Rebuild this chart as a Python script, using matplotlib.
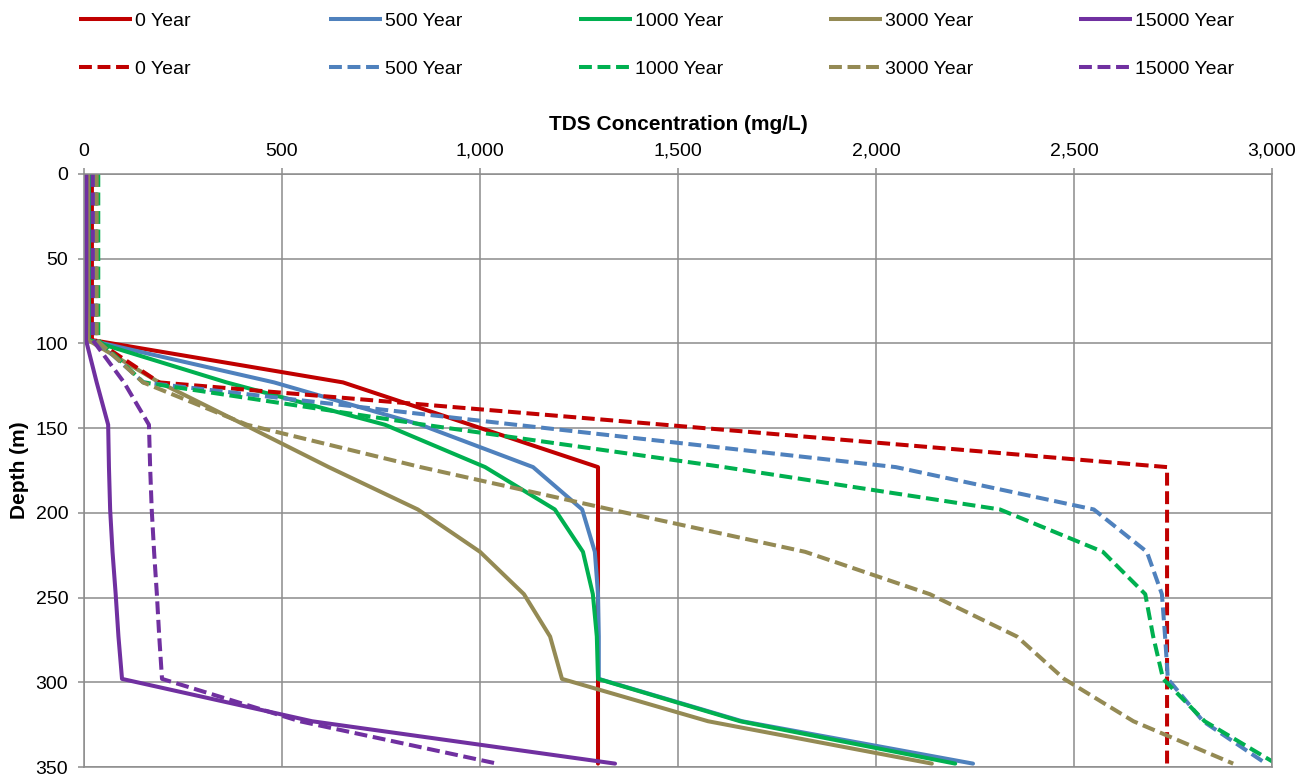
import matplotlib.pyplot as plt
from matplotlib.lines import Line2D
from matplotlib.ticker import FuncFormatter, MultipleLocator

plt.rcParams['font.family'] = ['Liberation Sans', 'DejaVu Sans']

# Profundidad de los nodos (m)
depth = [0, 25, 50, 75, 98, 123, 148, 173, 198, 223, 248, 273, 298, 323, 348]

years = ['0 Year', '500 Year', '1000 Year', '3000 Year', '15000 Year']
colors = ['#C00000', '#4F81BD', '#00B050', '#948A54', '#7030A0']

# Series continuas (TDS, mg/L)
solid_0 = [20, 20, 20, 20, 20, 654, 976, 1298, 1298, 1298, 1298, 1298, 1298, 1298, 1298]
solid_500 = [12, 12, 12, 12, 12, 480, 850, 1134, 1258, 1290, 1298, 1300, 1300, 1662, 2245]
solid_1000 = [12, 12, 12, 12, 12, 360, 760, 1013, 1189, 1260, 1285, 1295, 1298, 1657, 2200]
solid_3000 = [10, 10, 10, 10, 10, 190, 405, 618, 843, 1000, 1111, 1177, 1207, 1576, 2141]
solid_15000 = [6, 6, 6, 6, 5, 32, 61, 63, 66, 72, 80, 87, 96, 576, 1341]

# Series discontinuas
dash_0 = [28, 28, 28, 28, 28, 190, 1465, 2735, 2735, 2735, 2735, 2735, 2735, 2735, 2735]
dash_500 = [30, 30, 30, 30, 30, 150, 1090, 2050, 2550, 2684, 2722, 2730, 2737, 2826, 2985]
dash_1000 = [36, 36, 36, 36, 36, 150, 860, 1616, 2313, 2573, 2680, 2700, 2725, 2830, 3010]
dash_3000 = [32, 32, 32, 32, 32, 149, 412, 850, 1330, 1821, 2136, 2356, 2475, 2650, 2902]
dash_15000 = [22, 22, 22, 22, 22, 101, 164, 167, 171, 177, 184, 190, 197, 545, 1043]

solids = [solid_0, solid_500, solid_1000, solid_3000, solid_15000]
dashes = [dash_0, dash_500, dash_1000, dash_3000, dash_15000]

W, H = 1308, 777
fig = plt.figure(figsize=(W / 100, H / 100), dpi=100)
ax = fig.add_axes([84 / W, 10 / H, 1188 / W, 593 / H])

grid_c = '#8C8C8C'
lw = 2.9
dash_pat = (3.2, 1.4)

for vals, c in zip(solids, colors):
    ax.plot(vals, depth, color=c, lw=lw, solid_joinstyle='round', solid_capstyle='round')
for vals, c in zip(dashes, colors):
    ax.plot(vals, depth, color=c, lw=lw, dashes=dash_pat, dash_capstyle='butt',
            dash_joinstyle='round')

ax.set_xlim(0, 3000)
ax.set_ylim(350, 0)
ax.xaxis.set_major_locator(MultipleLocator(500))
ax.yaxis.set_major_locator(MultipleLocator(50))
ax.xaxis.set_major_formatter(FuncFormatter(lambda v, p: f'{int(v):,}'))
ax.xaxis.tick_top()
ax.xaxis.set_label_position('top')
ax.grid(True, color=grid_c, lw=1.1)
ax.set_axisbelow(True)
for s in ax.spines.values():
    s.set_color(grid_c)
    s.set_linewidth(1.1)

ax.tick_params(axis='x', direction='out', length=4.3, width=1.1, color=grid_c,
               labelsize=14, pad=6)
ax.tick_params(axis='y', direction='out', length=4.3, width=1.1, color=grid_c,
               labelsize=14, pad=7)

ax.set_xlabel('TDS Concentration (mg/L)', fontsize=15, fontweight='bold', labelpad=9)
ax.set_ylabel('Depth (m)', fontsize=15, fontweight='bold', labelpad=5)

# Leyenda: una columna por año (continua arriba, discontinua abajo)
for i, (name, c) in enumerate(zip(years, colors)):
    h = [Line2D([], [], color=c, lw=lw, solid_capstyle='butt'),
         Line2D([], [], color=c, lw=lw, dashes=dash_pat)]
    fig.legend(h, [name, name], loc='center left',
               bbox_to_anchor=((79 + 250 * i) / W, 1 - 45 / H),
               frameon=False, fontsize=14, borderpad=0, borderaxespad=0,
               handlelength=2.7, handletextpad=0.2, labelspacing=1.55)

fig.savefig('out.png', dpi=100)
